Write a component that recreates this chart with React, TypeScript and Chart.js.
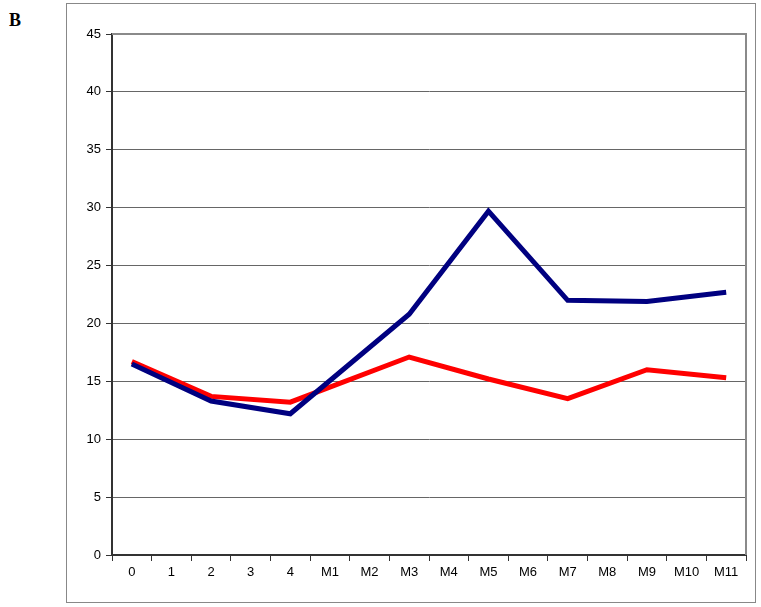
import React, { useEffect, useRef } from "react";
import { Chart, registerables } from "chart.js";

Chart.register(...registerables);

const categories = ["0", "1", "2", "3", "4", "M1", "M2", "M3", "M4", "M5", "M6", "M7", "M8", "M9", "M10", "M11"];
const blueSeries: (number | null)[] = [16.5, null, 13.3, null, 12.2, null, null, 20.8, null, 29.7, null, 22.0, null, 21.9, null, 22.7];
const redSeries: (number | null)[] = [16.7, null, 13.7, null, 13.2, null, null, 17.1, null, 15.2, null, 13.5, null, 16.0, null, 15.3];
const yTicks = [0, 5, 10, 15, 20, 25, 30, 35, 40, 45];

const plotBorder = {
  id: "plotBorder",
  beforeDatasetsDraw(chart: any) {
    const { ctx, chartArea } = chart;
    ctx.save();
    ctx.strokeStyle = "#8a8a8a";
    ctx.lineWidth = 2;
    ctx.beginPath();
    ctx.moveTo(chartArea.left, chartArea.top);
    ctx.lineTo(chartArea.right, chartArea.top);
    ctx.lineTo(chartArea.right, chartArea.bottom);
    ctx.stroke();
    ctx.restore();
  },
};

export default function App() {
  const ref = useRef<HTMLCanvasElement>(null);
  useEffect(() => {
    if (!ref.current) return;
    const chart = new Chart(ref.current, {
      type: "line",
      data: {
        labels: categories,
        datasets: [
          {
            data: blueSeries,
            borderColor: "#000080",
            backgroundColor: "#000080",
            borderWidth: 5,
            pointRadius: 0,
            spanGaps: true,
            tension: 0,
          },
          {
            data: redSeries,
            borderColor: "#ff0000",
            backgroundColor: "#ff0000",
            borderWidth: 5,
            pointRadius: 0,
            spanGaps: true,
            tension: 0,
          },
        ],
      },
      options: {
        animation: false,
        responsive: false,
        maintainAspectRatio: false,
        layout: { padding: { left: 66, top: 34, right: 15, bottom: 12 } },
        plugins: { legend: { display: false }, tooltip: { enabled: false } },
        scales: {
          x: {
            type: "category",
            offset: true,
            afterFit: (s: any) => { s.height = 40; },
            grid: {
              offset: true,
              drawOnChartArea: false,
              drawTicks: true,
              tickLength: 6,
              color: "#333",
            },
            border: { display: true, color: "#333", width: 2 },
            ticks: {
              color: "#000",
              font: { family: "'Liberation Sans', Arial, sans-serif", size: 13 },
              padding: 4,
              maxRotation: 0,
              autoSkip: false,
            },
          },
          y: {
            min: 0,
            max: 45,
            afterFit: (s: any) => { s.width = 46; },
            afterBuildTicks: (s: any) => { s.ticks = yTicks.map((v) => ({ value: v })); },
            grid: {
              color: "#666",
              lineWidth: 1,
              drawTicks: true,
              tickLength: 6,
              tickColor: "#333",
            },
            border: { display: true, color: "#333", width: 2 },
            ticks: {
              color: "#000",
              font: { family: "'Liberation Sans', Arial, sans-serif", size: 13 },
              padding: 5,
            },
          },
        },
      },
      plugins: [plotBorder],
    });
    return () => chart.destroy();
  }, []);

  return (
    <div style={{ position: "absolute", left: 0, top: 0, width: 761, height: 607, background: "#fff" }}>
      <div
        style={{
          position: "absolute",
          left: 66,
          top: 3,
          width: 690,
          height: 600,
          border: "1px solid #888",
          boxSizing: "border-box",
        }}
      />
      <div
        style={{
          position: "absolute",
          left: 9,
          top: 10,
          fontFamily: "'Liberation Serif', 'Times New Roman', serif",
          fontWeight: "bold",
          fontSize: 18,
        }}
      >
        B
      </div>
      <canvas ref={ref} width={761} height={607} style={{ position: "absolute", left: 0, top: 0 }} />
    </div>
  );
}
